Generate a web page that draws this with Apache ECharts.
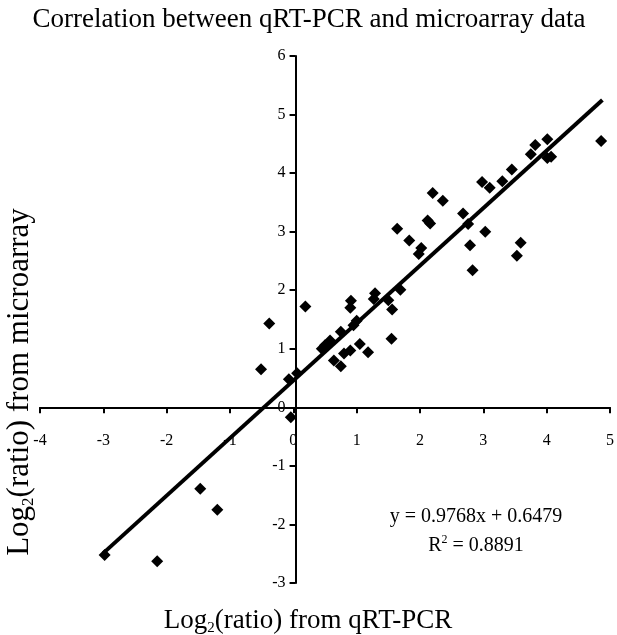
<!DOCTYPE html>
<html lang="en">
<head>
    <meta charset="UTF-8">
    <title>Correlation between qRT-PCR and microarray data</title>
    <script src="https://cdn.jsdelivr.net/npm/echarts@6/dist/echarts.min.js"></script>
    <style>
        body {
            margin: 0;
            padding: 0;
            background-color: #ffffff;
        }

        #chart {
            width: 617px;
            height: 635px;
        }
    </style>
</head>
<body>
    <div id="chart"></div>

    <script>
        // log2 ratio: [qRT-PCR, microarray]
        const upperPoints = [
            [4.86, 4.55], [4.01, 4.58], [3.82, 4.48], [3.75, 4.32], [4.01, 4.26],
            [4.07, 4.28], [3.45, 4.06], [3.30, 3.86], [2.98, 3.85], [3.10, 3.75],
            [2.20, 3.66], [2.36, 3.53], [2.68, 3.31], [2.76, 3.13], [2.12, 3.19],
            [2.16, 3.14], [1.64, 3.05], [3.03, 3.00], [1.83, 2.85], [2.02, 2.72],
            [1.98, 2.62], [2.79, 2.77], [3.59, 2.81], [3.53, 2.59], [2.83, 2.34],
            [1.69, 2.01]
        ];
        const middlePoints = [
            [0.19, 1.72], [-0.38, 1.43], [-0.51, 0.65], [-0.04, -0.17], [-0.07, 0.48],
            [0.06, 0.58], [1.29, 1.95], [1.27, 1.85], [1.50, 1.83], [1.56, 1.67],
            [0.91, 1.82], [0.90, 1.70], [1.00, 1.48], [0.95, 1.40], [0.75, 1.29],
            [0.58, 1.14], [0.50, 1.06], [0.45, 1.00], [1.55, 1.17], [1.05, 1.08],
            [0.90, 0.97], [0.80, 0.92], [1.18, 0.94], [0.64, 0.80], [0.75, 0.70]
        ];
        const lowerPoints = [
            [-2.98, -2.52], [-2.15, -2.63], [-1.47, -1.39], [-1.20, -1.75]
        ];
        // trendline ends as drawn
        const trendLine = [[-3.0, -2.49], [4.88, 5.25]];
        const xRange = [-4, 5];
        const yRange = [-3, 6];
        const equationText = 'y = 0.9768x + 0.6479';
        const r2Text = 'R{sup|2} = 0.8891';

        const serif = '"Liberation Serif", "Times New Roman", serif';

        // grid box, the axes cross at zero inside it
        const gridLeft = 40, gridRight = 2, gridTop = 56, gridBottom = 52;
        const gridW = 617 - gridLeft - gridRight;
        const gridH = 635 - gridTop - gridBottom;
        const yAxisShift = gridW * (0 - xRange[0]) / (xRange[1] - xRange[0]);
        const xAxisShift = gridH * (0 - yRange[0]) / (yRange[1] - yRange[0]);

        const chart = echarts.init(document.getElementById('chart'));
        const option = {
            animation: false,
            backgroundColor: '#ffffff',
            grid: {
                left: gridLeft,
                right: gridRight,
                top: gridTop,
                bottom: gridBottom
            },
            xAxis: {
                type: 'value',
                position: 'bottom',
                offset: -xAxisShift,
                min: xRange[0],
                max: xRange[1],
                interval: 1,
                axisLine: {
                    onZero: false,
                    lineStyle: { color: '#000', width: 2 }
                },
                axisTick: {
                    show: true,
                    length: 6,
                    lineStyle: { color: '#000', width: 2 }
                },
                axisLabel: {
                    margin: 25,
                    color: '#000',
                    fontSize: 16,
                    fontFamily: serif
                },
                splitLine: { show: false }
            },
            yAxis: {
                type: 'value',
                position: 'left',
                offset: -yAxisShift,
                min: yRange[0],
                max: yRange[1],
                interval: 1,
                axisLine: {
                    onZero: false,
                    lineStyle: { color: '#000', width: 2 }
                },
                axisTick: {
                    show: true,
                    length: 6,
                    lineStyle: { color: '#000', width: 2 }
                },
                axisLabel: {
                    margin: 10,
                    color: '#000',
                    fontSize: 16,
                    fontFamily: serif
                },
                splitLine: { show: false }
            },
            graphic: [
                {
                    type: 'text',
                    x: 309,
                    y: 20,
                    style: {
                        text: 'Correlation between qRT-PCR and microarray data',
                        fontSize: 27,
                        fontFamily: serif,
                        fill: '#000',
                        align: 'center',
                        verticalAlign: 'middle'
                    }
                },
                {
                    type: 'text',
                    x: 308,
                    y: 621,
                    style: {
                        text: 'Log{sub|2}(ratio) from qRT-PCR',
                        fontSize: 27,
                        fontFamily: serif,
                        fill: '#000',
                        align: 'center',
                        verticalAlign: 'middle',
                        rich: {
                            sub: { fontSize: 15, fontFamily: serif, verticalAlign: 'bottom', lineHeight: 30 }
                        }
                    }
                },
                {
                    type: 'text',
                    x: 20,
                    y: 382,
                    rotation: Math.PI / 2,
                    style: {
                        text: 'Log{sub|2}(ratio) from microarray',
                        fontSize: 31,
                        fontFamily: serif,
                        fill: '#000',
                        align: 'center',
                        verticalAlign: 'middle',
                        rich: {
                            sub: { fontSize: 17, fontFamily: serif, verticalAlign: 'bottom', lineHeight: 34 }
                        }
                    }
                },
                {
                    type: 'text',
                    x: 476,
                    y: 517,
                    style: {
                        text: equationText,
                        fontSize: 20,
                        fontFamily: serif,
                        fill: '#000',
                        align: 'center',
                        verticalAlign: 'middle'
                    }
                },
                {
                    type: 'text',
                    x: 476,
                    y: 546,
                    style: {
                        text: r2Text,
                        fontSize: 20,
                        fontFamily: serif,
                        fill: '#000',
                        align: 'center',
                        verticalAlign: 'middle',
                        rich: {
                            sup: { fontSize: 12, fontFamily: serif, verticalAlign: 'top', lineHeight: 24 }
                        }
                    }
                }
            ],
            series: [
                {
                    type: 'scatter',
                    symbol: 'diamond',
                    symbolSize: 12,
                    itemStyle: { color: '#000', opacity: 1 },
                    data: upperPoints.concat(middlePoints, lowerPoints)
                },
                {
                    type: 'line',
                    data: trendLine,
                    showSymbol: false,
                    symbol: 'none',
                    lineStyle: { color: '#000', width: 4 },
                    z: 3
                }
            ]
        };
        chart.setOption(option);
    </script>
</body>
</html>
